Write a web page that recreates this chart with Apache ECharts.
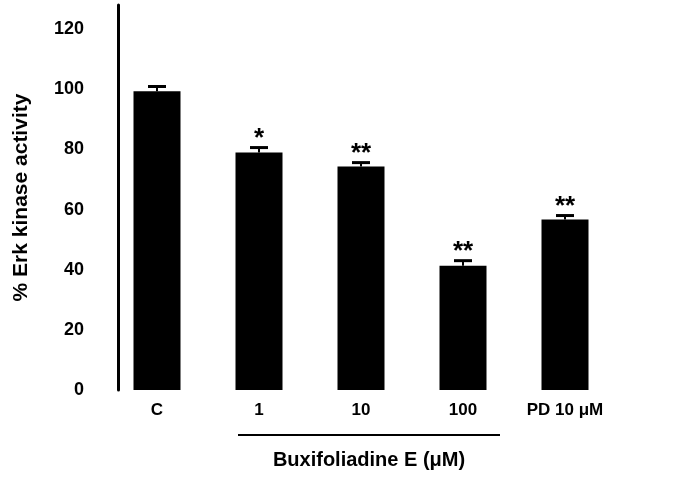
<!DOCTYPE html>
<html>
<head>
<meta charset="UTF-8">
<script src="https://cdn.jsdelivr.net/npm/echarts@6/dist/echarts.min.js"></script>
</head>
<body style="margin:0">
<div id="main" style="width:686px;height:480px;background:#fff"></div>
<script>
const categories = ['C', '1', '10', '100', 'PD 10 μM'];
const values = [99.3, 79, 74.3, 41.3, 56.7];
const errors = [1.6, 1.6, 1.3, 1.7, 1.3];
const stars = ['', '*', '**', '**', '**'];
const yTicks = [0, 20, 40, 60, 80, 100, 120];

const chart = echarts.init(document.getElementById('main'));
const font = 'Arial, "Liberation Sans", sans-serif';
chart.setOption({
  animation: false,
  grid: { left: 106, width: 510, top: 5, bottom: 90 },
  xAxis: {
    type: 'category', data: categories,
    axisLine: { show: false }, axisTick: { show: false },
    axisLabel: { color: '#000', fontWeight: 'bold', fontSize: 17, fontFamily: font, margin: 12 }
  },
  yAxis: {
    type: 'value', min: 0, max: 128, interval: 20, offset: -12,
    axisLine: { show: true, lineStyle: { color: '#000', width: 3 } },
    axisTick: { show: false }, splitLine: { show: false },
    axisLabel: {
      color: '#000', fontWeight: 'bold', fontSize: 18, fontFamily: font, margin: 34,
      formatter: v => yTicks.includes(v) ? String(v) : ''
    },
    name: '% Erk kinase activity', nameLocation: 'middle', nameGap: 86, nameRotate: 90,
    nameTextStyle: { color: '#000', fontWeight: 'bold', fontSize: 21, fontFamily: font }
  },
  series: [{
    type: 'bar', data: values, barWidth: 47,
    itemStyle: { color: '#000' }
  }, {
    type: 'custom',
    data: values.map((v, i) => [i, v, errors[i], stars[i]]),
    renderItem: (params, api) => {
      const x = api.value(0);
      const top = api.coord([x, api.value(1) + api.value(2)]);
      const base = api.coord([x, api.value(1)]);
      return {
        type: 'group', children: [
          { type: 'line', shape: { x1: top[0], y1: top[1], x2: base[0], y2: base[1] }, style: { stroke: '#000', lineWidth: 2 } },
          { type: 'line', shape: { x1: top[0] - 9, y1: top[1], x2: top[0] + 9, y2: top[1] }, style: { stroke: '#000', lineWidth: 3 } },
          { type: 'text', x: top[0], y: top[1] + 4, style: { text: api.value(3), fill: '#000', font: 'bold 26px Arial', align: 'center', verticalAlign: 'bottom' } }
        ]
      };
    }
  }],
  graphic: [
    { type: 'line', shape: { x1: 238, y1: 435, x2: 500, y2: 435 }, style: { stroke: '#000', lineWidth: 2 } },
    { type: 'text', x: 369, y: 460, style: { text: 'Buxifoliadine E (μM)', fill: '#000', font: 'bold 20px Arial', align: 'center', verticalAlign: 'middle' } }
  ]
});
</script>
</body>
</html>
